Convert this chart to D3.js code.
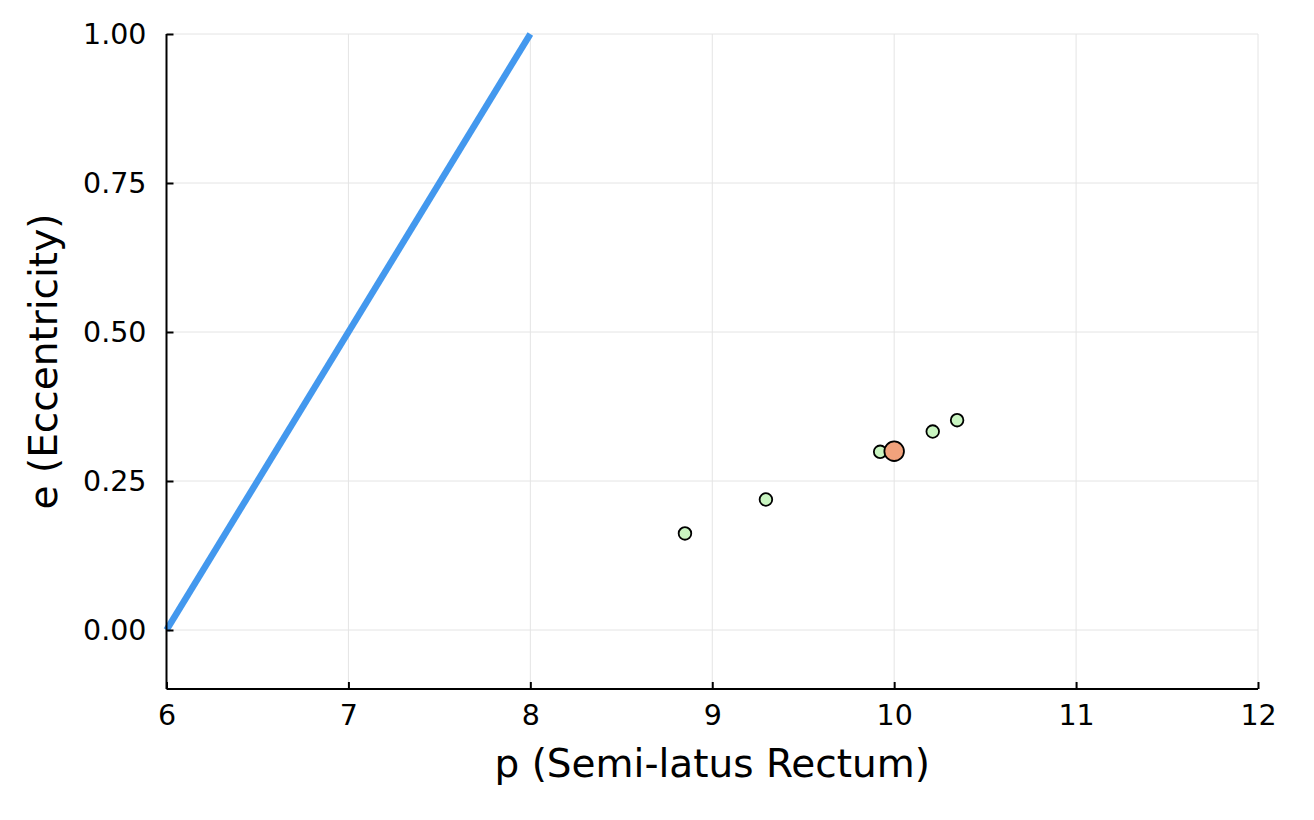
<!DOCTYPE html>
<html>
<head>
  <title>p-e plane</title>
  <script src="https://d3js.org/d3.v7.min.js"></script>
  <style>
    body { margin: 0; background: #fff; }
    text { font-family: "DejaVu Sans", sans-serif; fill: #000; }
  </style>
</head>
<body>
<svg width="1314" height="820"></svg>
<script>
  // separatrix p = 6 + 2e
  const sepP = [6, 8];
  const sepE = [0, 1];

  // nearby orbits
  const orbitP = [8.85, 9.295, 9.923, 10.212, 10.346];
  const orbitE = [0.162, 0.219, 0.299, 0.333, 0.352];

  // reference orbit
  const refP = [10.0];
  const refE = [0.3];

  const xTicks = [6, 7, 8, 9, 10, 11, 12];
  const yTicks = [0, 0.25, 0.5, 0.75, 1.0];

  const svg = d3.select("svg");

  const x = d3.scaleLinear().domain([6, 12]).range([166.5, 1258]);
  const y = d3.scaleLinear().domain([0, 1]).range([630, 34]);
  const yBottom = y(-0.099);

  // grid
  svg.append("g").selectAll("line").data(xTicks).enter().append("line")
      .attr("x1", d => x(d)).attr("x2", d => x(d))
      .attr("y1", y(1)).attr("y2", yBottom)
      .attr("stroke", "#e4e4e4").attr("stroke-width", 1);
  svg.append("g").selectAll("line").data(yTicks).enter().append("line")
      .attr("x1", x(6)).attr("x2", x(12))
      .attr("y1", d => y(d)).attr("y2", d => y(d))
      .attr("stroke", "#e4e4e4").attr("stroke-width", 1);

  // separatrix line
  const line = d3.line().x(d => x(d[0])).y(d => y(d[1]));
  svg.append("path")
      .datum(sepP.map((p, i) => [p, sepE[i]]))
      .attr("d", line)
      .attr("fill", "none")
      .attr("stroke", "#4398ee")
      .attr("stroke-width", 6.5);

  // axes
  const xAxis = d3.axisBottom(x).tickValues(xTicks).tickSize(-7).tickPadding(16)
      .tickFormat(d3.format("d"));
  const yAxis = d3.axisLeft(y).tickValues(yTicks).tickSize(-7).tickPadding(20)
      .tickFormat(d3.format(".2f"));

  const gx = svg.append("g").attr("transform", "translate(0," + yBottom + ")").call(xAxis);
  const gy = svg.append("g").attr("transform", "translate(" + x(6) + ",0)").call(yAxis);
  gy.select(".domain").attr("d", "M0," + y(1) + "V" + yBottom);
  [gx, gy].forEach(g => {
    g.select(".domain").attr("stroke", "#000").attr("stroke-width", 2);
    g.selectAll(".tick line").attr("stroke", "#000").attr("stroke-width", 2);
    g.selectAll(".tick text").style("font-size", "28.5px").style("font-family", "DejaVu Sans").attr("fill", "#000");
  });
  gx.select(".domain").attr("d", "M" + x(6) + ",0H" + x(12));

  // points
  svg.append("g").selectAll("circle").data(orbitP).enter().append("circle")
      .attr("cx", d => x(d))
      .attr("cy", (d, i) => y(orbitE[i]))
      .attr("r", 6.3)
      .attr("fill", "#c9f5c1")
      .attr("stroke", "#000").attr("stroke-width", 1.8);
  svg.append("g").selectAll("circle").data(refP).enter().append("circle")
      .attr("cx", d => x(d))
      .attr("cy", (d, i) => y(refE[i]))
      .attr("r", 9.8)
      .attr("fill", "#f1a27c")
      .attr("stroke", "#000").attr("stroke-width", 1.8);

  // labels
  svg.append("text")
      .attr("x", (x(6) + x(12)) / 2).attr("y", 777)
      .attr("text-anchor", "middle")
      .style("font-size", "39px")
      .text("p (Semi-latus Rectum)");
  svg.append("text")
      .attr("transform", "translate(57," + (y(1) + yBottom) / 2 + ") rotate(-90)")
      .attr("text-anchor", "middle")
      .style("font-size", "39px")
      .text("e (Eccentricity)");
</script>
</body>
</html>
